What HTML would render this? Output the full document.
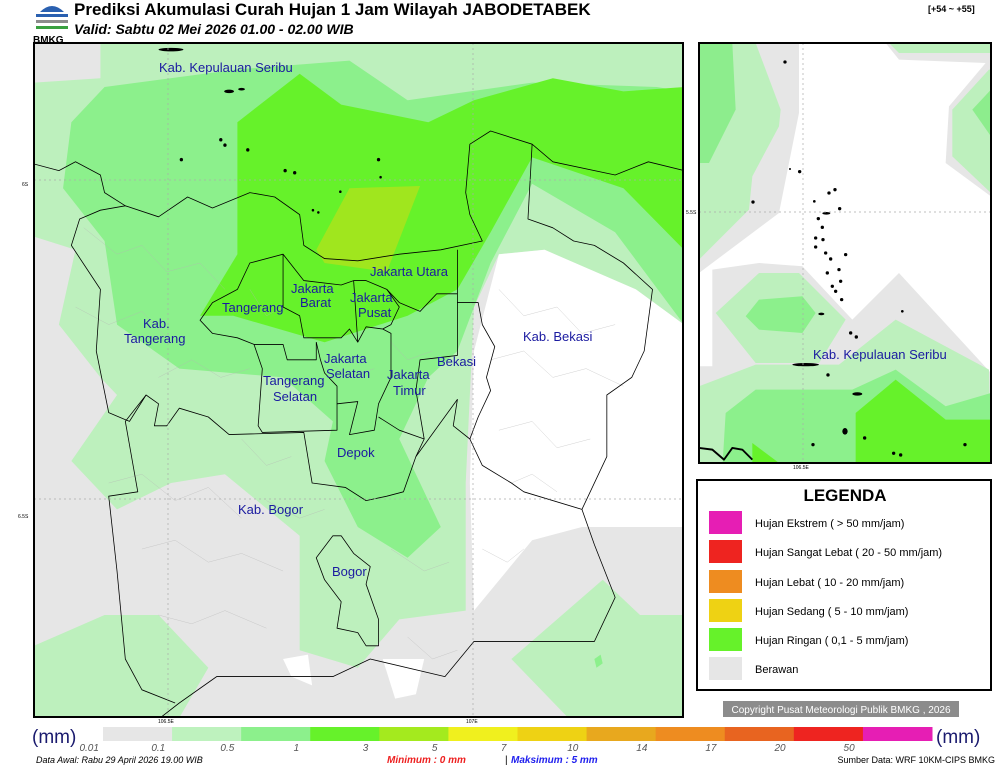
<!DOCTYPE html>
<html><head><meta charset="utf-8">
<style>
body{margin:0;width:1000px;height:769px;background:#fff;overflow:hidden;font-family:"Liberation Sans",sans-serif;position:relative}
.lbl{font-size:13px;fill:#1a1aa0;font-family:"Liberation Sans",sans-serif}
.bd{fill:none;stroke:#000;stroke-width:1.9;vector-effect:non-scaling-stroke;stroke-linejoin:round}
.sb{fill:none;stroke:#b4b4b4;stroke-width:0.7;vector-effect:non-scaling-stroke}
</style></head><body>
<svg width="1000" height="769" style="position:absolute;left:0;top:0">
<g>
<path d="M40 12 Q52 0 64 12 Z" fill="#2a60b0"/>
<rect x="36" y="14" width="32" height="3" fill="#2a60b0"/>
<rect x="36" y="20" width="32" height="3" fill="#8c8c8c"/>
<rect x="36" y="26" width="32" height="3" fill="#3aa040"/>
<text x="33" y="43" font-size="10" font-weight="bold" fill="#000">BMKG</text>
</g>
<text x="74" y="15" font-size="17" font-weight="bold" fill="#000">Prediksi Akumulasi Curah Hujan 1 Jam Wilayah JABODETABEK</text>
<text x="74" y="34" font-size="14" font-weight="bold" font-style="italic" fill="#000">Valid: Sabtu 02 Mei 2026 01.00 - 02.00 WIB</text>
<text x="928" y="12" font-size="9" font-weight="bold" fill="#000">[+54 ~ +55]</text>

<g>
<clipPath id="cm"><rect x="34" y="43" width="649" height="674"/></clipPath>
<g clip-path="url(#cm)">
<rect x="34" y="43" width="649" height="674" fill="#e6e6e6"/>
<g transform="translate(34,43) scale(0.4151,0.44)">
<polygon fill="#bdf0bd" points="0,90 160,80 160,0 1566,0 1566,640 1450,560 1230,470 1120,480 1060,600 1040,1000 1040,1290 880,1310 780,1420 640,1380 640,1120 460,980 330,1000 200,1060 90,950 200,800 160,760 60,640 100,470 0,440"/>
<polygon fill="#bdf0bd" points="0,1370 170,1300 300,1300 420,1420 330,1566 0,1566"/>
<polygon fill="#bdf0bd" points="1150,1400 1370,1220 1460,1300 1566,1300 1566,1566 1320,1566"/>
<polygon fill="#ffffff" points="1120,480 1230,470 1450,560 1566,640 1566,1100 1320,1100 1200,1130 1060,1290 1050,1000 1060,700"/>
<polygon fill="#ffffff" points="600,1400 660,1390 670,1460 620,1440"/>
<polygon fill="#ffffff" points="840,1400 940,1400 920,1480 870,1490"/>
<polygon fill="#8cf08c" points="70,330 90,180 170,100 490,60 760,40 900,130 1200,90 1500,100 1566,110 1566,640 1400,430 1200,320 1100,500 1020,700 950,760 880,900 980,1100 900,1170 780,1100 700,950 720,860 600,760 350,740 200,640 170,450"/>
<polygon fill="#66f22a" points="490,180 640,70 740,140 950,180 1060,130 1250,80 1420,110 1566,100 1566,470 1420,330 1200,260 1100,430 1020,560 900,620 700,680 480,620 400,620 490,480"/>
<polygon fill="#a0e61e" points="760,330 930,325 850,520 700,500 680,470"/>
<polygon fill="#8cf08c" points="1350,1400 1365,1390 1370,1410 1355,1420"/>
<g class="sb">
<path d="M120,420 L200,480 L260,460 L320,520 L400,500 L460,560 M100,600 L180,640 L260,610 L330,680 M300,760 L380,720 L450,760 L520,740 M180,1000 L260,980 L340,1040 L420,1010 L500,1080 M260,1150 L340,1130 L420,1180 L500,1160 L600,1200 M300,1300 L380,1320 L460,1290 L560,1330 M500,900 L560,960 L620,940 M560,1040 L640,1080 L700,1060 M860,1150 L940,1200 L1000,1180 M900,1350 L960,1400 L1020,1380 M1120,560 L1180,620 L1260,600 L1320,660 L1400,640 M1100,720 L1180,700 L1250,760 L1330,740 L1420,780 M1120,880 L1200,860 L1260,920 L1340,900 M1150,1000 L1200,980 L1260,1020 M1080,1150 L1140,1180 L1180,1150 M520,560 L560,620 L600,600 M700,720 L760,760 L820,740 M860,680 L900,720 L960,700"/>
</g>
<g class="bd">
<path d="M0,275 L60,290 L100,270 L160,300 L170,340 L220,370 L300,395 L370,350 L430,375 L520,340 L580,350 L640,390 L650,460 L700,490 L780,495 L880,480 L980,470 L1080,450 L1050,390 L1040,340 L1050,230 L1100,200 L1200,230 L1250,270 L1400,300 L1480,270 L1566,290"/>
<path d="M220,370 L160,380 L110,400 L90,460 L160,560 L150,700 L180,840 L230,860 L270,800 L300,820 L290,870 L320,870 L350,830 L420,850 L470,890 L650,885 L670,1000 L750,1010 L800,1040 L850,1030 L890,1020 L920,940 L1020,810 L1010,870 L1050,900 L1080,960 L1150,1000 L1180,1020 L1320,1060 L1350,1140 L1400,1260 L1350,1360 L1250,1360 L1060,1360 L990,1440 L810,1400 L720,1440 L540,1440 L440,1440 L350,1500 L260,1566"/>
<path d="M270,800 L220,860 L250,1020 L180,1030 L200,1200 L220,1400 L260,1470 L340,1500"/>
<path d="M1200,230 L1190,400 L1250,420 L1300,450 L1350,460 L1420,500 L1490,560 L1470,700 L1440,760 L1380,800 L1380,940 L1320,1060"/>
<path d="M1020,590 L1070,590 L1080,640 L1110,690 L1090,760 L1100,790 L1070,850 L1050,900"/>
<path d="M1020,470 L1020,570 L970,570 L930,610 L880,590 L850,560 L800,540 L770,540 L740,550 L650,540 L600,480 L520,500 L490,560 L430,590 L400,630 L430,660 L490,670 L530,685 L600,685 L610,720 L680,720 L680,680"/>
<path d="M600,480 L600,600 L640,620 L650,670 L740,670 L760,650 L780,680 L800,645 L840,650 L860,640 L880,600 L850,560 M770,540 L780,680"/>
<path d="M680,680 L690,720 L700,750 L730,780 L730,820 L780,815 L760,890 L820,880 L830,820 L860,760 L860,660 L840,650"/>
<path d="M1020,570 L1020,710 L930,720 L920,790 L940,900 L920,940 M830,850 L880,880 L940,900"/>
<path d="M530,685 L550,740 L540,870 L550,885 L730,880 L730,820"/>
<path d="M720,1120 L680,1170 L700,1220 L740,1270 L730,1330 L780,1340 L800,1370 L830,1370 L830,1310 L800,1230 L810,1190 L770,1160 L740,1120 Z"/>
</g>
<g fill="#000">
<ellipse cx="330" cy="15" rx="30" ry="4"/><ellipse cx="470" cy="110" rx="12" ry="4"/><ellipse cx="500" cy="105" rx="8" ry="3"/>
<circle cx="450" cy="220" r="4"/><circle cx="460" cy="232" r="4"/><circle cx="515" cy="243" r="4"/><circle cx="355" cy="265" r="4"/><circle cx="605" cy="290" r="4"/><circle cx="628" cy="295" r="4"/><circle cx="830" cy="265" r="4"/><circle cx="835" cy="305" r="3"/><circle cx="738" cy="338" r="3"/><circle cx="672" cy="380" r="3"/><circle cx="685" cy="385" r="3"/>
</g>
</g>
<line x1="34" y1="180" x2="683" y2="180" stroke="#aaa" stroke-dasharray="2,3" stroke-width="0.7"/>
<line x1="34" y1="499" x2="683" y2="499" stroke="#aaa" stroke-dasharray="2,3" stroke-width="0.7"/>
<line x1="168" y1="43" x2="168" y2="717" stroke="#aaa" stroke-dasharray="2,3" stroke-width="0.7"/>
<line x1="473" y1="43" x2="473" y2="717" stroke="#aaa" stroke-dasharray="2,3" stroke-width="0.7"/>
</g>
<rect x="34" y="43" width="649" height="674" fill="none" stroke="#000" stroke-width="2"/>
<text x="159" y="72" class="lbl">Kab. Kepulauan Seribu</text>
<text x="370" y="276" class="lbl">Jakarta Utara</text>
<text x="291" y="293" class="lbl">Jakarta</text><text x="300" y="307" class="lbl">Barat</text>
<text x="222" y="312" class="lbl">Tangerang</text>
<text x="350" y="302" class="lbl">Jakarta</text><text x="358" y="317" class="lbl">Pusat</text>
<text x="143" y="328" class="lbl">Kab.</text><text x="124" y="343" class="lbl">Tangerang</text>
<text x="324" y="363" class="lbl">Jakarta</text><text x="326" y="378" class="lbl">Selatan</text>
<text x="437" y="366" class="lbl">Bekasi</text>
<text x="523" y="341" class="lbl">Kab. Bekasi</text>
<text x="387" y="379" class="lbl">Jakarta</text><text x="393" y="395" class="lbl">Timur</text>
<text x="263" y="385" class="lbl">Tangerang</text><text x="273" y="401" class="lbl">Selatan</text>
<text x="337" y="457" class="lbl">Depok</text>
<text x="238" y="514" class="lbl">Kab. Bogor</text>
<text x="332" y="576" class="lbl">Bogor</text>
<text x="22" y="186" font-size="5" fill="#000">6S</text>
<text x="18" y="518" font-size="5" fill="#000">6.5S</text>
<text x="158" y="723" font-size="5" fill="#000">106.5E</text>
<text x="466" y="723" font-size="5" fill="#000">107E</text>
</g>

<g>
<clipPath id="ci"><rect x="699" y="43" width="292" height="420"/></clipPath>
<g clip-path="url(#ci)">
<rect x="699" y="43" width="292" height="420" fill="#fff"/>
<g transform="translate(699,43) scale(0.3333)">
<polygon fill="#e6e6e6" points="0,0 300,0 300,210 240,510 0,690"/>
<polygon fill="#bdf0bd" points="0,0 170,0 245,200 240,250 160,400 150,500 0,650"/>
<polygon fill="#8ded8d" points="0,0 100,0 110,200 30,360 0,360"/>
<polygon fill="#e6e6e6" points="560,0 876,0 876,460 740,360 750,190 860,60 600,50"/>
<polygon fill="#bdf0bd" points="570,0 876,0 876,30 600,30"/>
<polygon fill="#bdf0bd" points="760,200 870,80 876,80 876,450 760,340"/>
<polygon fill="#8ded8d" points="820,200 876,140 876,280"/>
<polygon fill="#e6e6e6" points="40,680 180,660 310,670 460,830 600,690 876,990 876,1275 0,1275 0,970 40,970"/>
<polygon fill="#bdf0bd" points="50,810 180,690 300,690 440,830 360,960 170,960"/>
<polygon fill="#bdf0bd" points="0,1030 170,965 420,965 590,830 870,980 876,1275 0,1275"/>
<polygon fill="#8cf08c" points="140,820 180,770 310,760 350,810 310,870 180,860"/>
<polygon fill="#8cf08c" points="80,1110 170,1040 460,1040 590,980 740,1090 876,1050 876,1275 70,1275"/>
<polygon fill="#66f22a" points="470,1110 590,1010 740,1130 876,1130 876,1275 470,1275"/>
<polygon fill="#66f22a" points="160,1200 260,1275 160,1275"/>
<path class="bd" d="M0,1215 L40,1220 L75,1250 L100,1215 L130,1220 L160,1250"/>
<g fill="#000">
<circle cx="258" cy="57" r="5"/><circle cx="302" cy="386" r="5"/><circle cx="162" cy="477" r="5"/><circle cx="273" cy="378" r="3"/>
<circle cx="390" cy="450" r="5"/><circle cx="408" cy="440" r="5"/><circle cx="346" cy="475" r="4"/><circle cx="422" cy="497" r="5"/>
<ellipse cx="382" cy="511" rx="12" ry="4"/><circle cx="358" cy="527" r="5"/><circle cx="370" cy="553" r="5"/><circle cx="350" cy="585" r="5"/><circle cx="372" cy="590" r="5"/><circle cx="350" cy="612" r="5"/>
<circle cx="380" cy="630" r="5"/><circle cx="395" cy="648" r="5"/><circle cx="440" cy="635" r="5"/><circle cx="385" cy="690" r="5"/><circle cx="420" cy="680" r="5"/><circle cx="425" cy="715" r="5"/>
<circle cx="400" cy="730" r="5"/><circle cx="410" cy="745" r="5"/><circle cx="428" cy="770" r="5"/><ellipse cx="367" cy="813" rx="9" ry="4"/><circle cx="610" cy="805" r="4"/>
<circle cx="455" cy="870" r="5"/><circle cx="472" cy="882" r="5"/><ellipse cx="320" cy="965" rx="40" ry="5"/><circle cx="387" cy="996" r="5"/>
<ellipse cx="475" cy="1053" rx="15" ry="5"/><ellipse cx="438" cy="1165" rx="8" ry="10"/><circle cx="497" cy="1185" r="5"/><circle cx="342" cy="1205" r="5"/><circle cx="798" cy="1205" r="5"/><circle cx="584" cy="1231" r="5"/><circle cx="605" cy="1236" r="5"/>
</g>
</g>
<line x1="699" y1="212" x2="991" y2="212" stroke="#aaa" stroke-dasharray="2,3" stroke-width="0.7"/>
<line x1="803" y1="43" x2="803" y2="463" stroke="#aaa" stroke-dasharray="2,3" stroke-width="0.7"/>
</g>
<rect x="699" y="43" width="292" height="420" fill="none" stroke="#000" stroke-width="2"/>
<text x="813" y="359" class="lbl">Kab. Kepulauan Seribu</text>
<text x="686" y="214" font-size="5" fill="#000">5.5S</text>
<text x="793" y="469" font-size="5" fill="#000">106.5E</text>
</g>

<g>
<rect x="697" y="480" width="294" height="210" fill="#fff" stroke="#000" stroke-width="2"/>
<text x="845" y="501" font-size="17" font-weight="bold" text-anchor="middle" fill="#000">LEGENDA</text>
<rect x="709" y="511" width="33" height="23" fill="#e61eb4"/><text x="755" y="527" font-size="11" fill="#000">Hujan Ekstrem ( &gt; 50 mm/jam)</text>
<rect x="709" y="540" width="33" height="23" fill="#ee2420"/><text x="755" y="556" font-size="11" fill="#000">Hujan Sangat Lebat ( 20 - 50 mm/jam)</text>
<rect x="709" y="570" width="33" height="23" fill="#ee8c20"/><text x="755" y="586" font-size="11" fill="#000">Hujan Lebat ( 10 - 20 mm/jam)</text>
<rect x="709" y="599" width="33" height="23" fill="#eed214"/><text x="755" y="615" font-size="11" fill="#000">Hujan Sedang ( 5 - 10 mm/jam)</text>
<rect x="709" y="628" width="33" height="23" fill="#66f22a"/><text x="755" y="644" font-size="11" fill="#000">Hujan Ringan ( 0,1 - 5 mm/jam)</text>
<rect x="709" y="657" width="33" height="23" fill="#e6e6e6"/><text x="755" y="673" font-size="11" fill="#000">Berawan</text>
</g>
<rect x="723" y="701" width="236" height="16" fill="#8c8c8c"/>
<text x="841" y="713" font-size="10" fill="#fff" text-anchor="middle">Copyright Pusat Meteorologi Publik BMKG , 2026</text>

<g id="cbar"></g>
<text x="32" y="743" font-size="19" fill="#1a1a6e">(mm)</text>
<text x="936" y="743" font-size="19" fill="#1a1a6e">(mm)</text>
<text x="36" y="763" font-size="9" font-style="italic" fill="#000">Data Awal: Rabu 29 April 2026 19.00 WIB</text>
<text x="387" y="763" font-size="10" font-style="italic" font-weight="bold" fill="#ee2020">Minimum :     0 mm</text>
<text x="505" y="763" font-size="10" fill="#000">|</text>
<text x="511" y="763" font-size="10" font-style="italic" font-weight="bold" fill="#2020ee">Maksimum :     5 mm</text>
<text x="995" y="763" font-size="9" text-anchor="end" fill="#000">Sumber Data: WRF 10KM-CIPS BMKG</text>
</svg>
<script>
const cbColors=["#e6e6e6","#bef2be","#8cf08c","#66f22a","#a4ea1e","#f0f01e","#eed214","#e8a81e","#ee8c20","#e86420","#ee2420","#e61eb4"];
const cbTicks=["0.01","0.1","0.5","1","3","5","7","10","14","17","20","50"];
const g=document.getElementById('cbar');
const NS="http://www.w3.org/2000/svg";
const bx=103,seg=(932-103)/cbColors.length;
cbColors.forEach((c,i)=>{
 const r=document.createElementNS(NS,'rect');
 r.setAttribute('x',bx+i*seg);r.setAttribute('y',727);r.setAttribute('width',seg+0.5);r.setAttribute('height',14);r.setAttribute('fill',c);
 
 
 g.appendChild(r);
});
cbTicks.forEach((t,i)=>{
 const tx=document.createElementNS(NS,'text');
 tx.setAttribute('x',bx+i*seg-seg*0.2);tx.setAttribute('y',751);tx.setAttribute('font-size','10');tx.setAttribute('font-style','italic');tx.setAttribute('fill','#555');tx.setAttribute('text-anchor','middle');
 tx.textContent=t;
 
 
 g.appendChild(tx);
});
</script>
</body></html>
